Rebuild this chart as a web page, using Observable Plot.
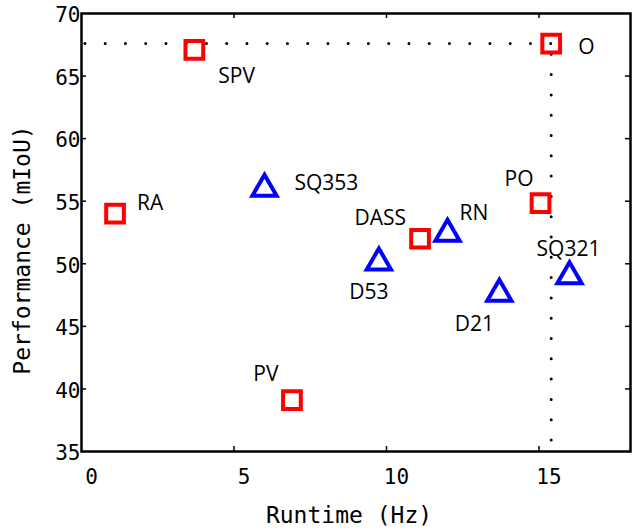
<!DOCTYPE html>
<html>
<head>
<meta charset="utf-8">
<script src="https://cdn.jsdelivr.net/npm/d3@7"></script>
<script src="https://cdn.jsdelivr.net/npm/@observablehq/plot@0.6"></script>
<style>
  html, body { margin: 0; padding: 0; background: #fff; }
  #chart svg { display: block; }
</style>
</head>
<body>
<div id="chart"></div>
<script>
// ---- data ----
const names   = ["RA", "SPV", "SQ353", "O", "PO", "DASS", "RN", "D53", "D21", "SQ321", "PV"];
const runtime = [1.1, 3.7, 6.0, 15.4, 15.05, 11.1, 12.0, 9.75, 13.7, 16.0, 6.9];
const miou    = [54.0, 67.1, 56.0, 67.6, 54.85, 52.0, 52.4, 50.1, 47.6, 49.0, 39.1];
const kind    = ["square", "square", "triangle", "square", "square", "square", "triangle", "triangle", "triangle", "triangle", "square"];
const xTicks  = [0, 5, 10, 15];
const yTicks  = [35, 40, 45, 50, 55, 60, 65, 70];

const data = names.map((name, i) => ({name, x: runtime[i], y: miou[i], kind: kind[i]}));
const best = data.find(d => d.name === "O");
const xMin = 0, xMax = 18, yMin = 35, yMax = 70;

// label placement (styling, in pixels)
const labelPos = {
  RA:    {dx: 22, dy: -10, anchor: "start"},
  SPV:   {dx: 24, dy: 26, anchor: "start"},
  SQ353: {dx: 30, dy: -5, anchor: "start"},
  O:     {dx: 27, dy: 4, anchor: "start"},
  PO:    {dx: -7, dy: -24, anchor: "end"},
  DASS:  {dx: -14, dy: -20, anchor: "end"},
  RN:    {dx: 12, dy: -20, anchor: "start"},
  D53:   {dx: -10, dy: 30, anchor: "middle"},
  D21:   {dx: -25, dy: 30, anchor: "middle"},
  SQ321: {dx: -1, dy: -27, anchor: "middle"},
  PV:    {dx: -26, dy: -26, anchor: "middle"}
};

const mono = "'DejaVu Sans Mono', monospace";
const labelMarks = data.map(d => Plot.text([d], {
  x: "x", y: "y", text: "name",
  dx: labelPos[d.name].dx, dy: labelPos[d.name].dy,
  textAnchor: labelPos[d.name].anchor,
  fontFamily: "'Open Sans', sans-serif", fontSize: 21, fill: "#000"
}));

const innerX = xTicks.filter(t => t > xMin && t < xMax);
const innerY = yTicks.filter(t => t > yMin && t < yMax);
const tickStyle = {stroke: "#000", strokeWidth: 1.5};

const chart = Plot.plot({
  width: 635,
  height: 531,
  marginLeft: 81,
  marginRight: 5,
  marginTop: 13,
  marginBottom: 80,
  style: {background: "#fff", color: "#000"},
  x: {domain: [xMin, xMax]},
  y: {domain: [yMin, yMax]},
  marks: [
    // dotted reference lines to the best point
    Plot.ruleY([best], {y: "y", x1: "x", x2: xMin, stroke: "#000", strokeWidth: 3, strokeDasharray: "0,20.25", strokeLinecap: "round"}),
    Plot.ruleX([best], {x: "x", y1: yMin, y2: "y", stroke: "#000", strokeWidth: 3, strokeDasharray: "0,20.3", strokeDashoffset: 9.3, strokeLinecap: "round"}),
    // inward ticks on all four sides
    Plot.ruleX(innerX, {x: d => d, y1: yMin, y2: yMin, insetBottom: 5, ...tickStyle}),
    Plot.ruleX(innerX, {x: d => d, y1: yMax, y2: yMax, insetTop: 5, ...tickStyle}),
    Plot.ruleY(innerY, {y: d => d, x1: xMin, x2: xMin, insetLeft: 5, ...tickStyle}),
    Plot.ruleY(innerY, {y: d => d, x1: xMax, x2: xMax, insetRight: 5, ...tickStyle}),
    // tick labels
    Plot.axisX({ticks: xTicks, tickSize: 0, tickPadding: 18, dx: 10, label: null, fontSize: 21, fontFamily: mono}),
    Plot.axisY({ticks: yTicks, tickSize: 0, tickPadding: 1, dy: 2, label: null, fontSize: 21, fontFamily: mono}),
    Plot.frame({stroke: "#000", strokeWidth: 2.5}),
    // points
    Plot.dot(data.filter(d => d.kind === "square"), {x: "x", y: "y", symbol: "square", r: 10, stroke: "#ff0000", strokeWidth: 4, fill: "none"}),
    Plot.dot(data.filter(d => d.kind === "triangle"), {x: "x", y: "y", symbol: "triangle", r: 9, stroke: "#0000ff", strokeWidth: 4, fill: "none", strokeLinejoin: "miter"}),
    ...labelMarks
  ]
});

// axis titles
const svg = d3.select(chart);
svg.append("text")
  .attr("x", 349).attr("y", 516)
  .attr("text-anchor", "middle").attr("dominant-baseline", "middle")
  .attr("font-family", mono).attr("font-size", 23).attr("fill", "#000")
  .text("Runtime (Hz)");
svg.append("text")
  .attr("transform", "translate(23,250) rotate(-90)")
  .attr("text-anchor", "middle").attr("dominant-baseline", "middle")
  .attr("font-family", mono).attr("font-size", 23).attr("fill", "#000")
  .text("Performance (mIoU)");

document.getElementById("chart").appendChild(chart);
</script>
</body>
</html>
